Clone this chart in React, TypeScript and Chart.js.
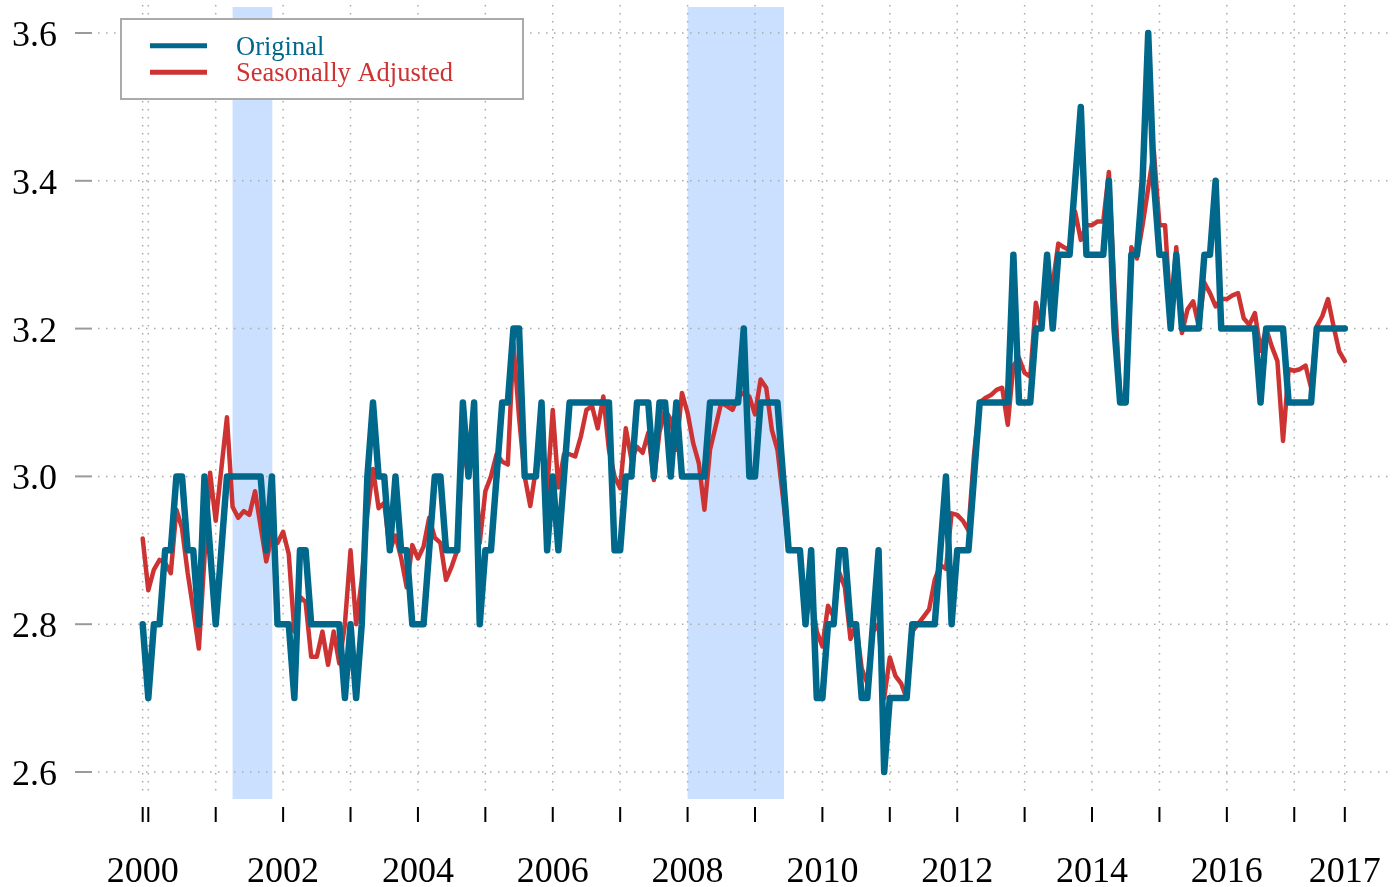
import React, { useEffect, useRef } from "react";
import { Chart, registerables } from "chart.js";

Chart.register(...registerables);

// Monthly series, first month Dec 1999
const START = 1999 + 11 / 12;

const ORIGINAL: number[] = [
  2.8, 2.7, 2.8, 2.8, 2.9, 2.9, 3.0, 3.0, 2.9, 2.9,
  2.8, 3.0, 2.9, 2.8, 2.9, 3.0, 3.0, 3.0, 3.0, 3.0,
  3.0, 3.0, 2.9, 3.0, 2.8, 2.8, 2.8, 2.7, 2.9, 2.9,
  2.8, 2.8, 2.8, 2.8, 2.8, 2.8, 2.7, 2.8, 2.7, 2.8,
  3.0, 3.1, 3.0, 3.0, 2.9, 3.0, 2.9, 2.9, 2.8, 2.8,
  2.8, 2.9, 3.0, 3.0, 2.9, 2.9, 2.9, 3.1, 3.0, 3.1,
  2.8, 2.9, 2.9, 3.0, 3.1, 3.1, 3.2, 3.2, 3.0, 3.0,
  3.0, 3.1, 2.9, 3.0, 2.9, 3.0, 3.1, 3.1, 3.1, 3.1,
  3.1, 3.1, 3.1, 3.1, 2.9, 2.9, 3.0, 3.0, 3.1, 3.1,
  3.1, 3.0, 3.1, 3.1, 3.0, 3.1, 3.0, 3.0, 3.0, 3.0,
  3.0, 3.1, 3.1, 3.1, 3.1, 3.1, 3.1, 3.2, 3.0, 3.0,
  3.1, 3.1, 3.1, 3.1, 3.0, 2.9, 2.9, 2.9, 2.8, 2.9,
  2.7, 2.7, 2.8, 2.8, 2.9, 2.9, 2.8, 2.8, 2.7, 2.7,
  2.8, 2.9, 2.6, 2.7, 2.7, 2.7, 2.7, 2.8, 2.8, 2.8,
  2.8, 2.8, 2.9, 3.0, 2.8, 2.9, 2.9, 2.9, 3.0, 3.1,
  3.1, 3.1, 3.1, 3.1, 3.1, 3.3, 3.1, 3.1, 3.1, 3.2,
  3.2, 3.3, 3.2, 3.3, 3.3, 3.3, 3.4, 3.5, 3.3, 3.3,
  3.3, 3.3, 3.4, 3.2, 3.1, 3.1, 3.3, 3.3, 3.4, 3.6,
  3.4, 3.3, 3.3, 3.2, 3.3, 3.2, 3.2, 3.2, 3.2, 3.3,
  3.3, 3.4, 3.2, 3.2, 3.2, 3.2, 3.2, 3.2, 3.2, 3.1,
  3.2, 3.2, 3.2, 3.2, 3.1, 3.1, 3.1, 3.1, 3.1, 3.2,
  3.2, 3.2, 3.2, 3.2, 3.2,
];

const ADJUSTED: number[] = [
  2.916, 2.846, 2.874, 2.887, 2.883, 2.869, 2.955, 2.93, 2.87, 2.82,
  2.767, 2.89, 3.005, 2.94, 3.01, 3.08, 2.959, 2.944, 2.953, 2.948,
  2.98, 2.932, 2.885, 2.92, 2.91, 2.925, 2.895, 2.79, 2.837, 2.83,
  2.756, 2.756, 2.79, 2.745, 2.79, 2.747, 2.8, 2.9, 2.8, 2.86,
  2.95, 3.01, 2.957, 2.964, 2.9, 2.92, 2.89, 2.85, 2.907, 2.889,
  2.905, 2.944, 2.917, 2.91, 2.86, 2.878, 2.9, 3.04, 3.0, 3.05,
  2.91, 2.98, 3.0, 3.03, 3.02, 3.016, 3.18, 3.08, 3.0, 2.96,
  3.01, 3.04, 2.98, 3.09, 2.985, 3.03, 3.03, 3.027, 3.054, 3.09,
  3.095, 3.065, 3.108, 3.036, 3.0, 2.984, 3.065, 3.023, 3.04, 3.032,
  3.059, 2.995, 3.06, 3.09, 3.077, 3.036, 3.113, 3.086, 3.045, 3.018,
  2.955, 3.036, 3.068, 3.1, 3.095, 3.09, 3.108, 3.113, 3.108, 3.084,
  3.131, 3.12, 3.063, 3.036, 2.97, 2.9, 2.9, 2.9, 2.806, 2.84,
  2.79, 2.77, 2.825, 2.81, 2.87, 2.85, 2.78, 2.8, 2.74, 2.72,
  2.79, 2.8, 2.7, 2.755, 2.73, 2.72, 2.7, 2.79, 2.8, 2.81,
  2.82, 2.86, 2.88, 2.875, 2.95, 2.948, 2.94, 2.927, 3.03, 3.1,
  3.106, 3.11, 3.117, 3.12, 3.07, 3.15, 3.16, 3.14, 3.135, 3.235,
  3.2, 3.27, 3.26, 3.315, 3.31, 3.306, 3.358, 3.32, 3.34, 3.34,
  3.345, 3.345, 3.412, 3.25, 3.11, 3.1, 3.31, 3.295, 3.34, 3.39,
  3.44, 3.34, 3.34, 3.22, 3.31, 3.194, 3.226, 3.237, 3.203, 3.262,
  3.248, 3.23, 3.24, 3.24, 3.245, 3.248, 3.214, 3.205, 3.221, 3.17,
  3.2, 3.176, 3.156, 3.048, 3.145, 3.143, 3.145, 3.15, 3.12, 3.203,
  3.217, 3.24, 3.203, 3.169, 3.156,
];

const Y_TICKS = [2.6, 2.8, 3.0, 3.2, 3.4, 3.6];
const Y_LABELS = ["2.6", "2.8", "3.0", "3.2", "3.4", "3.6"];
const YEARS = [2000, 2001, 2002, 2003, 2004, 2005, 2006, 2007, 2008, 2009, 2010, 2011, 2012, 2013, 2014, 2015, 2016, 2017];
const LABELED_YEARS = [2002, 2004, 2006, 2008, 2010, 2012, 2014, 2016];
const RECESSIONS: [number, number][] = [
  [2001.25, 2001.84],
  [2008.0, 2009.43],
];

const BLUE = "#00688B";
const RED = "#CD3333";
const SHADE = "rgb(203,224,255)";
const GRID = "#ababab";
const FONT = "'Liberation Serif', 'Times New Roman', serif";

const TIMES = ORIGINAL.map((_, i) => START + i / 12);
const END = TIMES[TIMES.length - 1];

const decorPlugin = {
  id: "decor",
  beforeDatasetsDraw(chart: any) {
    const { ctx, chartArea: a, scales } = chart;
    const x = scales.x;
    const y = scales.y;
    ctx.save();
    ctx.fillStyle = SHADE;
    for (const [s, e] of RECESSIONS) {
      const x0 = x.getPixelForValue(s);
      const x1 = x.getPixelForValue(e);
      ctx.fillRect(x0, a.top, x1 - x0, a.bottom - a.top);
    }
    ctx.strokeStyle = GRID;
    ctx.lineWidth = 1.5;
    ctx.setLineDash([1.5, 6.5]);
    const xt = [START, ...YEARS, END];
    for (const t of xt) {
      const px = x.getPixelForValue(t);
      ctx.beginPath();
      ctx.moveTo(px, a.top - 2);
      ctx.lineTo(px, a.bottom - 4);
      ctx.stroke();
    }
    for (const v of Y_TICKS) {
      const py = y.getPixelForValue(v);
      ctx.beginPath();
      ctx.moveTo(a.left, py);
      ctx.lineTo(a.right, py);
      ctx.stroke();
    }
    ctx.restore();
  },
  afterDraw(chart: any) {
    const { ctx, scales } = chart;
    const x = scales.x;
    const y = scales.y;
    ctx.save();
    // y ticks and labels
    ctx.strokeStyle = "#9a9a9a";
    ctx.lineWidth = 2;
    ctx.fillStyle = "#000";
    ctx.font = `36px ${FONT}`;
    ctx.textAlign = "right";
    ctx.textBaseline = "alphabetic";
    Y_TICKS.forEach((v, k) => {
      const py = y.getPixelForValue(v);
      ctx.beginPath();
      ctx.moveTo(75, py);
      ctx.lineTo(92, py);
      ctx.stroke();
      ctx.fillText(Y_LABELS[k], 57, py + 13);
    });
    // x ticks and labels
    ctx.strokeStyle = "#000";
    ctx.lineWidth = 2;
    const xt = [START, ...YEARS, END];
    for (const t of xt) {
      const px = x.getPixelForValue(t);
      ctx.beginPath();
      ctx.moveTo(px, 807);
      ctx.lineTo(px, 822);
      ctx.stroke();
    }
    ctx.textAlign = "center";
    ctx.fillText("2000", x.getPixelForValue(START), 882);
    for (const yr of LABELED_YEARS) {
      ctx.fillText(String(yr), x.getPixelForValue(yr), 882);
    }
    ctx.fillText("2017", x.getPixelForValue(END), 882);

    // legend
    ctx.fillStyle = "#fff";
    ctx.fillRect(121, 19, 402, 80);
    ctx.strokeStyle = "#aaaaaa";
    ctx.lineWidth = 2;
    ctx.strokeRect(121, 19, 402, 80);
    ctx.lineWidth = 5;
    ctx.strokeStyle = BLUE;
    ctx.beginPath();
    ctx.moveTo(150, 45.7);
    ctx.lineTo(207, 45.7);
    ctx.stroke();
    ctx.strokeStyle = RED;
    ctx.beginPath();
    ctx.moveTo(150, 72.3);
    ctx.lineTo(207, 72.3);
    ctx.stroke();
    ctx.font = `26.5px ${FONT}`;
    ctx.textAlign = "left";
    ctx.fillStyle = BLUE;
    ctx.fillText("Original", 236, 55);
    ctx.fillStyle = RED;
    ctx.fillText("Seasonally Adjusted", 236, 81);
    ctx.restore();
  },
};

export default function App() {
  const ref = useRef<HTMLCanvasElement | null>(null);
  useEffect(() => {
    if (!ref.current) return;
    const chart = new Chart(ref.current, {
      type: "line",
      data: {
        datasets: [
          {
            label: "Original",
            data: ORIGINAL.map((v, i) => ({ x: TIMES[i], y: v })),
            borderColor: BLUE,
            borderWidth: 6.5,
            pointRadius: 0,
            tension: 0,
            borderJoinStyle: "round",
            borderCapStyle: "round",
            fill: false,
          },
          {
            label: "Seasonally Adjusted",
            data: ADJUSTED.map((v, i) => ({ x: TIMES[i], y: v })),
            borderColor: RED,
            borderWidth: 4.5,
            pointRadius: 0,
            tension: 0,
            borderJoinStyle: "round",
            borderCapStyle: "round",
            fill: false,
          },
        ],
      },
      options: {
        animation: false,
        responsive: false,
        devicePixelRatio: 1,
        layout: { padding: { left: 98, right: 3, top: 7, bottom: 88 } },
        plugins: { legend: { display: false }, tooltip: { enabled: false } },
        scales: {
          x: { type: "linear", min: 1999.2538, max: 2018.4203, display: false },
          y: { type: "linear", min: 2.56346, max: 3.63518, display: false },
        },
      },
      plugins: [decorPlugin],
    } as any);
    return () => chart.destroy();
  }, []);
  return (
    <div style={{ position: "absolute", left: 0, top: 0, width: 1393, height: 887, background: "#fff" }}>
      <canvas ref={ref} width={1393} height={887} style={{ display: "block" }} />
    </div>
  );
}
